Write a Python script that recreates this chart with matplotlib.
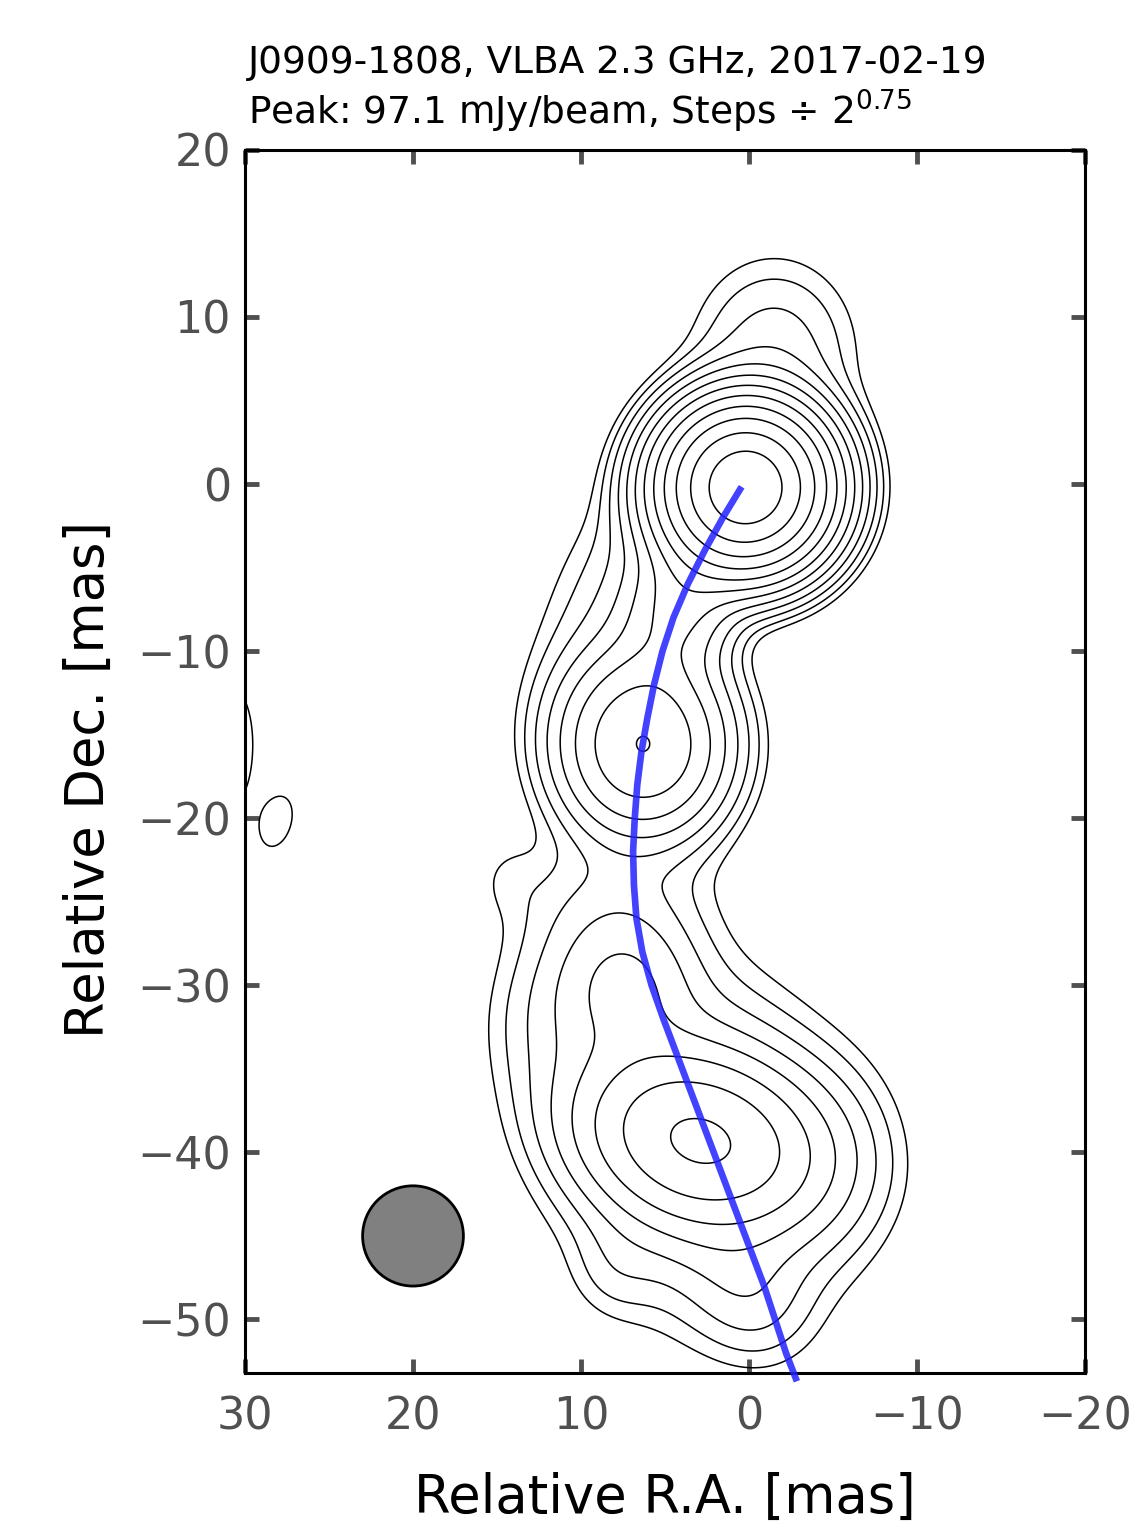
import matplotlib
matplotlib.use("Agg")
import matplotlib.pyplot as plt
from matplotlib.patches import Ellipse
import numpy as np

# map parameters
peak = 97.1          # mJy/beam
step = 2 ** 0.75
n_levels = 12

# source model: elliptical gaussian components (convolved)
# ra [mas], dec [mas], amp [mJy/beam], fwhm major, fwhm minor [mas], pa [deg, N through E]
comp_name = ['core', 'core_c', 'north', 'east', 'inner1', 'J1', 'bridge', 'bump',
             'upper_s', 'J2', 'J2_halo', 'west', 'tail', 'lobe', 'east_s', 'iso1', 'iso2']
comp_ra   = [0.2, 0.2, -1.5, 8.0, 4.0, 6.3, 8.5, 14.4, 7.5, 2.9, 3.0, -4.5, 0.0, 8.0, 12.0, 28.05, 30.8]
comp_dec  = [-0.2, -0.2, 8.0, -6.0, -7.0, -15.6, -25.0, -23.5, -30.0, -39.3, -39.5, -40.0, -48.5, -47.0, -32.0, -20.2, -15.6]
comp_amp  = [82.0, 15.0, 0.7, 0.4, 2.8, 7.25, 0.4, 0.12, 1.4, 6.4, 1.5, 0.35, 0.45, 0.2, 0.35, 0.29, 0.3]
comp_maj  = [5.8, 2.5, 8.0, 12.0, 7.0, 7.2, 9.0, 3.5, 6.5, 9.5, 14.0, 9.0, 6.0, 4.5, 8.0, 3.6, 8.4]
comp_min  = [5.8, 2.5, 7.0, 6.0, 4.5, 6.5, 6.0, 3.0, 6.0, 6.5, 11.0, 7.0, 5.0, 4.0, 6.0, 2.0, 3.1]
comp_pa   = [0, 0, 0, 155, 159, 0, 90, 0, 0, 75, 20, 0, 30, 0, 0, -15, 0]

# jet ridge line
ridge_ra  = [0.44, 1.55, 2.65, 3.65, 4.5, 5.15, 5.65, 6.05, 6.4, 6.65, 6.8, 6.9, 6.85, 6.7,
             6.35, 5.8, 5.1, 4.35, 3.6, 2.85, 2.1, 1.35, 0.6, -0.15, -0.9, -1.55, -2.2, -2.85]
ridge_dec = [-0.16, -2.0, -4.0, -6.0, -8.0, -10.0, -12.0, -14.0, -16.0, -18.0, -20.0, -22.0, -24.0, -26.0,
             -28.0, -30.0, -32.0, -34.0, -36.0, -38.0, -40.0, -42.0, -44.0, -46.0, -48.0, -50.0, -52.0, -53.7]

# restoring beam
beam_ra, beam_dec, beam_d = 20.0, -45.0, 6.0

title = "J0909-1808, VLBA 2.3 GHz, 2017-02-19\nPeak: 97.1 mJy/beam, Steps $\\div$ 2$^{0.75}$"

# build the map
ra = np.arange(35.0, -25.0, -0.08)
dec = np.arange(-60.0, 25.0, 0.08)
RA, DEC = np.meshgrid(ra, dec)
img = np.zeros_like(RA)
for x0, y0, a, fmaj, fmin, pa in zip(comp_ra, comp_dec, comp_amp, comp_maj, comp_min, comp_pa):
    t = np.deg2rad(pa)
    dx, dy = RA - x0, DEC - y0
    u = dx * np.sin(t) + dy * np.cos(t)
    v = dx * np.cos(t) - dy * np.sin(t)
    img += a * np.exp(-4 * np.log(2) * ((u / fmaj) ** 2 + (v / fmin) ** 2))

levels = peak * step ** (-np.arange(n_levels, 0, -1, dtype=float))

fig = plt.figure(figsize=(11.39, 15.39), dpi=100)
ax = fig.add_axes([0.2151, 0.1079, 0.7375, 0.7947])

ax.contour(RA, DEC, img, levels=levels, colors='black', linewidths=1.1)
ax.plot(ridge_ra, ridge_dec, color='#2222ff', alpha=0.85, lw=4.8,
        solid_capstyle='butt', clip_on=False, zorder=5)
ax.add_patch(Ellipse((beam_ra, beam_dec), beam_d, beam_d, facecolor='#808080',
                     edgecolor='black', lw=2, zorder=4))

ax.set_xlim(30, -20)
ax.set_ylim(-53.2, 20)
ax.set_xticks([30, 20, 10, 0, -10, -20])
ax.set_yticks([20, 10, 0, -10, -20, -30, -40, -50])
ax.tick_params(direction='in', top=True, right=True, length=10, width=3.5,
               color='#505050', labelcolor='#505050', labelsize=32, pad=10)
ax.tick_params(axis='x', pad=16)
for s in ax.spines.values():
    s.set_linewidth(2.2)

ax.set_xlabel("Relative R.A. [mas]", fontsize=38, labelpad=24)
ax.set_ylabel("Relative Dec. [mas]", fontsize=38)
ax.yaxis.set_label_coords(-0.155, 0.485)
ax.text(0.004, 1.012, title, transform=ax.transAxes, ha='left', va='bottom',
        fontsize=27, linespacing=1.2)

fig.savefig("out.png", dpi=100)
